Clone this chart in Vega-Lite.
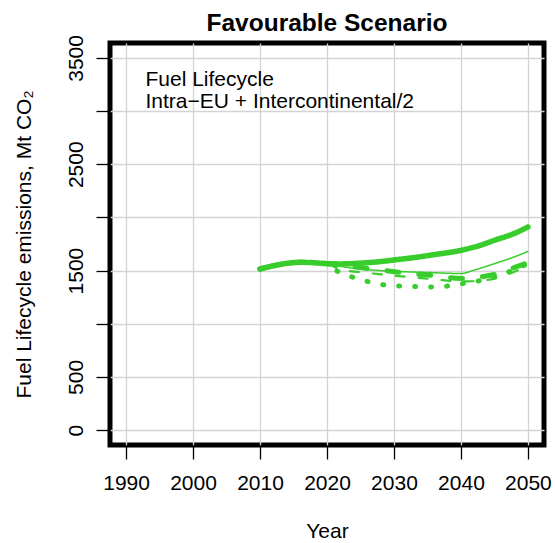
{
  "$schema": "https://vega.github.io/schema/vega-lite/v6.json",
  "width": 434,
  "height": 402,
  "autosize": "none",
  "padding": {"left": 110, "top": 43, "right": 11, "bottom": 98},
  "title": {"text": "Favourable Scenario", "fontSize": 24.5, "fontWeight": "bold", "frame": "group", "anchor": "middle", "baseline": "alphabetic", "offset": 6, "dy": 27, "color": "black", "font": "Liberation Sans"},
  "config": {
    "font": "Liberation Sans",
    "view": {"stroke": "black", "strokeWidth": 5},
    "axis": {
      "grid": true, "gridColor": "#d3d3d3", "gridWidth": 1.3,
      "domain": false, "tickColor": "black", "tickSize": 14, "tickWidth": 1.3,
      "labelFontSize": 21, "labelColor": "black", "titleFontSize": 21,
      "titleFontWeight": "normal", "titleColor": "black", "labelOverlap": false, "labelFlush": false
    }
  },
  "encoding": {
    "x": {"field": "year", "type": "quantitative",
      "scale": {"domain": [1987.6, 2052.4], "nice": false, "zero": false},
      "axis": {"values": [1990, 2000, 2010, 2020, 2030, 2040, 2050], "format": "d", "labelPadding": 13, "title": "Year", "titlePadding": 27}},
    "y": {"field": "value", "type": "quantitative",
      "scale": {"domain": [-140, 3640], "nice": false, "zero": false},
      "axis": {"values": [0, 500, 1000, 1500, 2000, 2500, 3000, 3500], "labelExpr": "datum.value == 1000 || datum.value == 2000 || datum.value == 3000 ? '' : datum.label", "format": "d", "labelAngle": 270, "labelAlign": "center", "labelBaseline": "bottom", "labelPadding": 10, "title": "Fuel Lifecycle emissions, Mt CO₂", "titlePadding": 31}}
  },
  "layer": [
    {
      "data": {"values": [
        {"series": "A", "year": 2010, "value": 1515}, {"series": "A", "year": 2012, "value": 1545}, {"series": "A", "year": 2014, "value": 1568}, {"series": "A", "year": 2016, "value": 1578}, {"series": "A", "year": 2018, "value": 1574}, {"series": "A", "year": 2020, "value": 1565},
        {"series": "A", "year": 2022, "value": 1563}, {"series": "A", "year": 2025, "value": 1570}, {"series": "A", "year": 2028, "value": 1585}, {"series": "A", "year": 2030, "value": 1600}, {"series": "A", "year": 2033, "value": 1622}, {"series": "A", "year": 2036, "value": 1650}, {"series": "A", "year": 2040, "value": 1690}, {"series": "A", "year": 2043, "value": 1740}, {"series": "A", "year": 2045, "value": 1785}, {"series": "A", "year": 2048, "value": 1850}, {"series": "A", "year": 2050, "value": 1910},
        {"series": "B", "year": 2010, "value": 1515}, {"series": "B", "year": 2012, "value": 1545}, {"series": "B", "year": 2014, "value": 1568}, {"series": "B", "year": 2016, "value": 1578}, {"series": "B", "year": 2018, "value": 1574}, {"series": "B", "year": 2020, "value": 1565},
        {"series": "B", "year": 2022, "value": 1540}, {"series": "B", "year": 2025, "value": 1515}, {"series": "B", "year": 2028, "value": 1500}, {"series": "B", "year": 2030, "value": 1493}, {"series": "B", "year": 2033, "value": 1486}, {"series": "B", "year": 2036, "value": 1480}, {"series": "B", "year": 2040, "value": 1472}, {"series": "B", "year": 2042, "value": 1505}, {"series": "B", "year": 2045, "value": 1565}, {"series": "B", "year": 2048, "value": 1630}, {"series": "B", "year": 2050, "value": 1680},
        {"series": "C", "year": 2010, "value": 1515}, {"series": "C", "year": 2012, "value": 1545}, {"series": "C", "year": 2014, "value": 1568}, {"series": "C", "year": 2016, "value": 1578}, {"series": "C", "year": 2018, "value": 1574}, {"series": "C", "year": 2020, "value": 1565},
        {"series": "C", "year": 2022, "value": 1550}, {"series": "C", "year": 2025, "value": 1528}, {"series": "C", "year": 2028, "value": 1505}, {"series": "C", "year": 2030, "value": 1490}, {"series": "C", "year": 2033, "value": 1470}, {"series": "C", "year": 2036, "value": 1452}, {"series": "C", "year": 2040, "value": 1425}, {"series": "C", "year": 2042, "value": 1435}, {"series": "C", "year": 2044, "value": 1452}, {"series": "C", "year": 2046, "value": 1480}, {"series": "C", "year": 2048, "value": 1530}, {"series": "C", "year": 2050, "value": 1575},
        {"series": "D", "year": 2010, "value": 1515}, {"series": "D", "year": 2012, "value": 1545}, {"series": "D", "year": 2014, "value": 1568}, {"series": "D", "year": 2016, "value": 1578}, {"series": "D", "year": 2018, "value": 1574}, {"series": "D", "year": 2020, "value": 1565},
        {"series": "D", "year": 2022, "value": 1510}, {"series": "D", "year": 2025, "value": 1485}, {"series": "D", "year": 2028, "value": 1465}, {"series": "D", "year": 2030, "value": 1452}, {"series": "D", "year": 2033, "value": 1435}, {"series": "D", "year": 2036, "value": 1418}, {"series": "D", "year": 2040, "value": 1398}, {"series": "D", "year": 2042, "value": 1400}, {"series": "D", "year": 2045, "value": 1425}, {"series": "D", "year": 2048, "value": 1490}, {"series": "D", "year": 2050, "value": 1545},
        {"series": "E", "year": 2010, "value": 1515}, {"series": "E", "year": 2012, "value": 1545}, {"series": "E", "year": 2014, "value": 1568}, {"series": "E", "year": 2016, "value": 1578}, {"series": "E", "year": 2018, "value": 1574}, {"series": "E", "year": 2020, "value": 1565},
        {"series": "E", "year": 2021, "value": 1515}, {"series": "E", "year": 2022, "value": 1480}, {"series": "E", "year": 2024, "value": 1435}, {"series": "E", "year": 2026, "value": 1398}, {"series": "E", "year": 2028, "value": 1370}, {"series": "E", "year": 2030, "value": 1358}, {"series": "E", "year": 2033, "value": 1350}, {"series": "E", "year": 2036, "value": 1345}, {"series": "E", "year": 2038, "value": 1355}, {"series": "E", "year": 2040, "value": 1375}, {"series": "E", "year": 2042, "value": 1395}, {"series": "E", "year": 2044, "value": 1422}, {"series": "E", "year": 2046, "value": 1460}, {"series": "E", "year": 2048, "value": 1510}, {"series": "E", "year": 2050, "value": 1565}
      ]},
      "mark": {"type": "line", "color": "#38cd2c", "interpolate": "monotone", "strokeCap": "round", "strokeJoin": "round"},
      "encoding": {
        "detail": {"field": "series", "type": "nominal"},
        "strokeDash": {"field": "series", "type": "nominal", "scale": {"type": "ordinal", "domain": ["A", "B", "C", "D", "E"], "range": [[1, 0], [1, 0], [12, 20], [9, 14], [1, 15]]}, "legend": null},
        "strokeWidth": {"field": "series", "type": "nominal", "scale": {"type": "ordinal", "domain": ["A", "B", "C", "D", "E"], "range": [5.5, 1.5, 5, 2.2, 5]}, "legend": null}
      }
    },
    {
      "data": {"values": [
        {"year": 1992.9, "value": 3235, "label": "Fuel Lifecycle"},
        {"year": 1992.9, "value": 3030, "label": "Intra−EU + Intercontinental/2"}
      ]},
      "mark": {"type": "text", "align": "left", "baseline": "alphabetic", "fontSize": 21, "color": "black"},
      "encoding": {"text": {"field": "label", "type": "nominal"}}
    }
  ]
}
